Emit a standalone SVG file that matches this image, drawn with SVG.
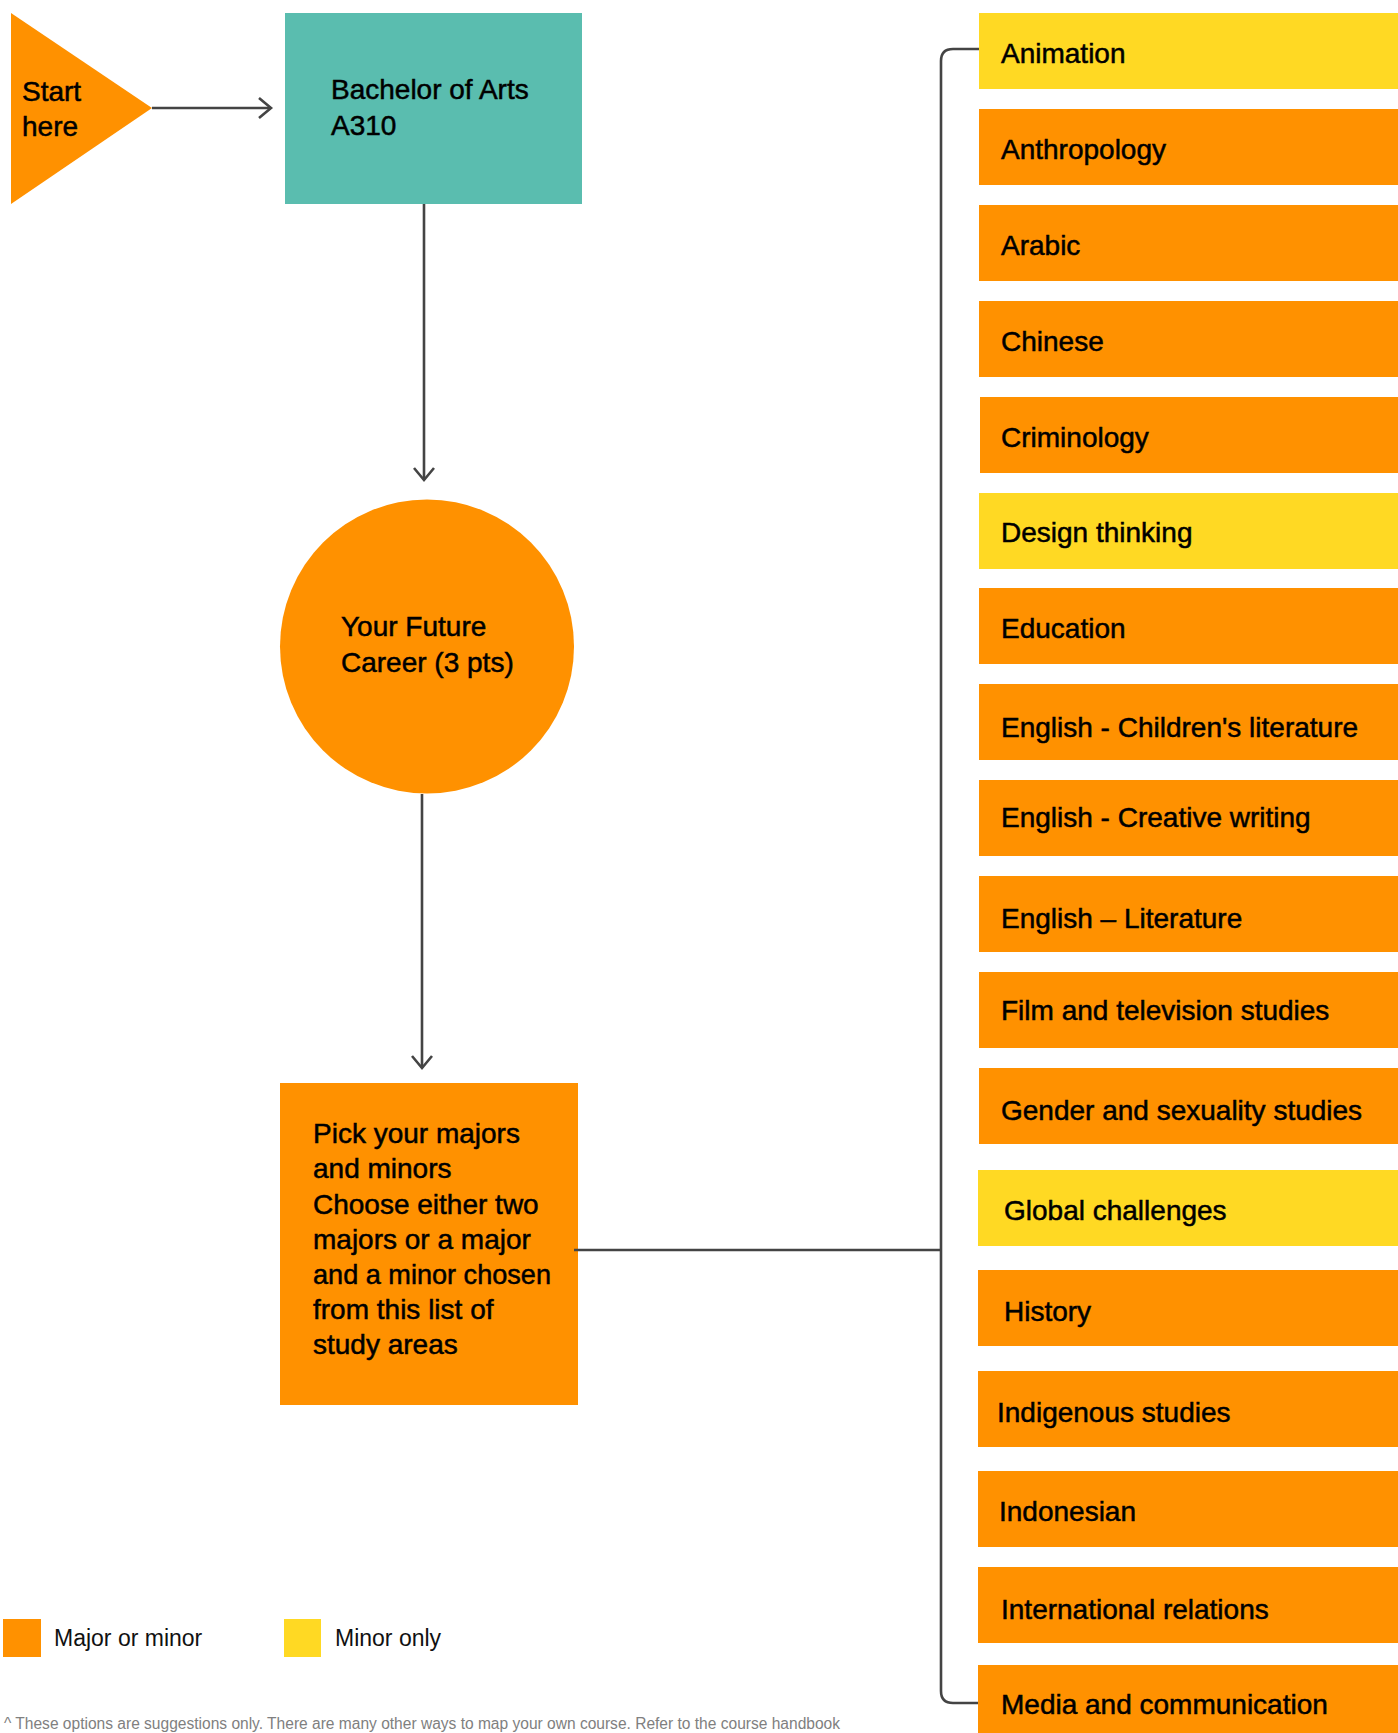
<svg xmlns="http://www.w3.org/2000/svg" width="1398" height="1733" viewBox="0 0 1398 1733">
<style>
  .t { font-family: "Liberation Sans", Arial, sans-serif; font-size: 28px; fill: #000; stroke: #000; stroke-width: 0.5px; }
  .lg { font-family: "Liberation Sans", Arial, sans-serif; font-size: 23px; fill: #111; }
  .fn { font-family: "Liberation Sans", Arial, sans-serif; font-size: 16px; fill: #808080; }
  .or { fill: #FF9100; }
  .ye { fill: #FFD923; }
  .tl { fill: #5ABDAF; }
  .cn { fill: none; stroke: #444; stroke-width: 2.6; }
</style>
<defs>
  <marker id="arr" viewBox="-15 -13 18 26" refX="0" refY="0" markerWidth="18" markerHeight="26" markerUnits="userSpaceOnUse" orient="auto">
    <path d="M-12,-10 L0,0 L-12,10" fill="none" stroke="#444" stroke-width="2.6"/>
  </marker>
</defs>
<rect width="1398" height="1733" fill="#fff"/>

<g id="start">
  <polygon class="or" points="11,13 152,108 11,204"/>
  <text class="t" x="22" y="101">Start</text>
  <text class="t" x="22" y="136">here</text>
</g>
<g id="bachelor">
  <rect class="tl" x="285" y="13" width="297" height="191"/>
  <text class="t" x="331" y="99">Bachelor of Arts</text>
  <text class="t" x="331" y="135">A310</text>
</g>
<g id="career">
  <circle class="or" cx="427" cy="646.5" r="147"/>
  <text class="t" x="341" y="636">Your Future</text>
  <text class="t" x="341" y="672">Career (3 pts)</text>
</g>
<g id="pick">
  <rect class="or" x="280" y="1083" width="298" height="322"/>
  <text class="t" x="313" y="1143">Pick your majors</text>
  <text class="t" x="313" y="1178">and minors</text>
  <text class="t" x="313" y="1214">Choose either two</text>
  <text class="t" x="313" y="1249">majors or a major</text>
  <text class="t" x="313" y="1284" textLength="238" lengthAdjust="spacingAndGlyphs">and a minor chosen</text>
  <text class="t" x="313" y="1319">from this list of</text>
  <text class="t" x="313" y="1354">study areas</text>
</g>

<g id="animation"><rect class="ye" x="979" y="13" width="419" height="76"/><text class="t" x="1001" y="63">Animation</text></g>
<g id="anthropology"><rect class="or" x="979" y="109" width="419" height="76"/><text class="t" x="1001" y="159">Anthropology</text></g>
<g id="arabic"><rect class="or" x="979" y="205" width="419" height="76"/><text class="t" x="1001" y="255">Arabic</text></g>
<g id="chinese"><rect class="or" x="979" y="301" width="419" height="76"/><text class="t" x="1001" y="351">Chinese</text></g>
<g id="criminology"><rect class="or" x="980" y="397" width="418" height="76"/><text class="t" x="1001" y="447">Criminology</text></g>
<g id="design-thinking"><rect class="ye" x="979" y="493" width="419" height="76"/><text class="t" x="1001" y="542">Design thinking</text></g>
<g id="education"><rect class="or" x="979" y="588" width="419" height="76"/><text class="t" x="1001" y="638">Education</text></g>
<g id="english-childrens"><rect class="or" x="979" y="684" width="419" height="76"/><text class="t" x="1001" y="737">English - Children's literature</text></g>
<g id="english-creative"><rect class="or" x="979" y="780" width="419" height="76"/><text class="t" x="1001" y="827">English - Creative writing</text></g>
<g id="english-literature"><rect class="or" x="979" y="876" width="419" height="76"/><text class="t" x="1001" y="928">English – Literature</text></g>
<g id="film"><rect class="or" x="979" y="972" width="419" height="76"/><text class="t" x="1001" y="1020">Film and television studies</text></g>
<g id="gender"><rect class="or" x="979" y="1068" width="419" height="76"/><text class="t" x="1001" y="1120">Gender and sexuality studies</text></g>
<g id="global"><rect class="ye" x="978" y="1170" width="420" height="76"/><text class="t" x="1004" y="1220">Global challenges</text></g>
<g id="history"><rect class="or" x="978" y="1270" width="420" height="76"/><text class="t" x="1004" y="1321">History</text></g>
<g id="indigenous"><rect class="or" x="978" y="1371" width="420" height="76"/><text class="t" x="997" y="1422">Indigenous studies</text></g>
<g id="indonesian"><rect class="or" x="978" y="1471" width="420" height="76"/><text class="t" x="999" y="1521">Indonesian</text></g>
<g id="international"><rect class="or" x="978" y="1567" width="420" height="76"/><text class="t" x="1001" y="1619">International relations</text></g>
<g id="media"><rect class="or" x="978" y="1665" width="420" height="76"/><text class="t" x="1001" y="1714">Media and communication</text></g>

<g id="connectors">
  <path class="cn" d="M152,108 H271" marker-end="url(#arr)"/>
  <path class="cn" d="M424,204 V480" marker-end="url(#arr)"/>
  <path class="cn" d="M422,794 V1068" marker-end="url(#arr)"/>
  <path class="cn" d="M574,1250 H941"/>
  <path class="cn" d="M979,49 H953 Q941,49 941,61 V1691 Q941,1703 953,1703 H978"/>
</g>

<g id="legend">
  <rect class="or" x="3" y="1619" width="38" height="38"/>
  <text class="lg" x="54" y="1646">Major or minor</text>
  <rect class="ye" x="284" y="1619" width="37" height="38"/>
  <text class="lg" x="335" y="1646">Minor only</text>
</g>
<text class="fn" x="4" y="1729" textLength="836" lengthAdjust="spacingAndGlyphs">^ These options are suggestions only.  There are many other ways to map your own course. Refer to the course handbook</text>
</svg>
